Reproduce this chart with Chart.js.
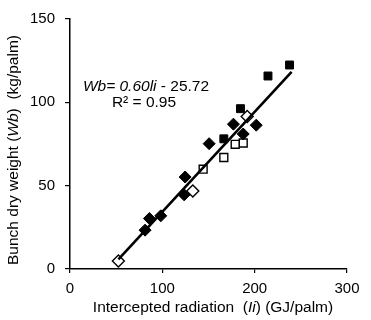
<!DOCTYPE html>
<html>
<head>
<meta charset="utf-8">
<script src="https://cdn.jsdelivr.net/npm/chart.js@4.4.1/dist/chart.umd.min.js"></script>
<style>
  html, body { margin: 0; padding: 0; background: #fff; }
  canvas { display: block; }
</style>
</head>
<body>
<canvas id="chart-bunch" width="371" height="320"></canvas>
<script>
//--------------------- data ---------------------
var filled_square_x = [237.8, 214.4, 184.6, 166.6];
var filled_square_y = [122.4, 115.8, 96.2, 78.1];

var filled_diamond_x = [201.7, 187.6, 177.0, 150.7, 124.7, 123.6, 98.3, 86.0, 81.3];
var filled_diamond_y = [86.3, 81.0, 86.9, 75.2, 55.2, 44.5, 31.9, 30.3, 23.3];

var open_square_x = [187.6, 178.9, 166.6, 144.2];
var open_square_y = [75.6, 74.8, 66.9, 59.9];

var open_diamond_x = [191.9, 133.0, 52.4];
var open_diamond_y = [91.5, 46.8, 4.8];

// regression Wb = 0.60 Ii - 25.72
var slope = 0.60;
var intercept = -25.72;
var fit_range = [52.4, 240];

var x_ticks = [0, 100, 200, 300];
var y_ticks = [0, 50, 100, 150];

//---------------------------------------------------------------------
function toPoints(xs, ys) {
    var arr = [];
    for (var i = 0; i < xs.length; i++) {
        arr.push({ x: xs[i], y: ys[i] });
    }
    return arr;
}

var fit_points = fit_range.map(function (v) {
    return { x: v, y: slope * v + intercept };
});

var FONT = "'Liberation Sans', Arial, sans-serif";

// draw a line of text made of pieces, some italic
function drawRich(ctx, parts, cx, cy, size) {
    var total = 0;
    parts.forEach(function (p) {
        ctx.font = (p.italic ? 'italic ' : '') + size + 'px ' + FONT;
        p.w = ctx.measureText(p.text).width;
        total += p.w;
    });
    var x = cx - total / 2;
    ctx.textBaseline = 'middle';
    ctx.textAlign = 'left';
    parts.forEach(function (p) {
        ctx.font = (p.italic ? 'italic ' : '') + size + 'px ' + FONT;
        ctx.fillText(p.text, x, cy);
        x += p.w;
    });
}

var richText = {
    id: 'richText',
    afterDraw: function (chart) {
        var ctx = chart.ctx;
        ctx.save();
        ctx.fillStyle = '#000';

        // equation
        drawRich(ctx, [
            { text: 'Wb', italic: true },
            { text: '= 0.60', italic: true },
            { text: 'li', italic: true },
            { text: ' - 25.72', italic: false }
        ], 146, 87, 15.5);
        drawRich(ctx, [{ text: 'R\u00b2 = 0.95', italic: false }], 144, 103, 15.5);

        // x title
        drawRich(ctx, [
            { text: 'Intercepted radiation  (', italic: false },
            { text: 'Ii', italic: true },
            { text: ') (GJ/palm)', italic: false }
        ], 213, 308, 15.5);

        // y title
        ctx.translate(14, 150);
        ctx.rotate(-Math.PI / 2);
        drawRich(ctx, [
            { text: 'Bunch dry weight (', italic: false },
            { text: 'Wb', italic: true },
            { text: ')  (kg/palm)', italic: false }
        ], 0, 0, 15.5);
        ctx.restore();
    }
};

var ctx_bunch = document.getElementById('chart-bunch').getContext('2d');
var chart_bunch = new Chart(ctx_bunch, {
    type: 'scatter',
    data: {
        datasets: [
            {
                type: 'line',
                label: 'fit',
                data: fit_points,
                borderColor: '#000',
                borderWidth: 2.6,
                pointRadius: 0,
                fill: false
            },
            {
                label: 'filled square',
                data: toPoints(filled_square_x, filled_square_y),
                pointStyle: 'rect',
                pointRadius: 5.6,
                backgroundColor: '#000',
                borderColor: '#000',
                borderWidth: 1
            },
            {
                label: 'filled diamond',
                data: toPoints(filled_diamond_x, filled_diamond_y),
                pointStyle: 'rectRot',
                pointRadius: 6,
                backgroundColor: '#000',
                borderColor: '#000',
                borderWidth: 1
            },
            {
                label: 'open square',
                data: toPoints(open_square_x, open_square_y),
                pointStyle: 'rect',
                pointRadius: 5.6,
                backgroundColor: '#fff',
                borderColor: '#000',
                borderWidth: 1.4
            },
            {
                label: 'open diamond',
                data: toPoints(open_diamond_x, open_diamond_y),
                pointStyle: 'rectRot',
                pointRadius: 6,
                backgroundColor: '#fff',
                borderColor: '#000',
                borderWidth: 1.4
            }
        ]
    },
    options: {
        responsive: false,
        animation: false,
        devicePixelRatio: 1,
        layout: {
            padding: { left: 0, right: 24, top: 12, bottom: 0 }
        },
        plugins: {
            legend: { display: false },
            tooltip: { enabled: false }
        },
        scales: {
            x: {
                type: 'linear',
                min: 0,
                max: 300,
                afterBuildTicks: function (scale) {
                    scale.ticks = x_ticks.map(function (v) { return { value: v }; });
                },
                afterFit: function (scale) { scale.height = 51; },
                grid: {
                    drawOnChartArea: false,
                    drawTicks: true,
                    tickLength: 4,
                    color: '#000',
                    lineWidth: 1.2
                },
                border: { color: '#000', width: 1.5 },
                ticks: {
                    color: '#000',
                    padding: 7,
                    font: { family: FONT, size: 15 }
                }
            },
            y: {
                type: 'linear',
                min: 0,
                max: 150,
                afterBuildTicks: function (scale) {
                    scale.ticks = y_ticks.map(function (v) { return { value: v }; });
                },
                afterFit: function (scale) { scale.width = 70; },
                grid: {
                    drawOnChartArea: false,
                    drawTicks: true,
                    tickLength: 5,
                    color: '#000',
                    lineWidth: 1.2
                },
                border: { color: '#000', width: 1.5 },
                ticks: {
                    color: '#000',
                    padding: 10,
                    font: { family: FONT, size: 15 }
                }
            }
        }
    },
    plugins: [richText]
});
</script>
</body>
</html>
